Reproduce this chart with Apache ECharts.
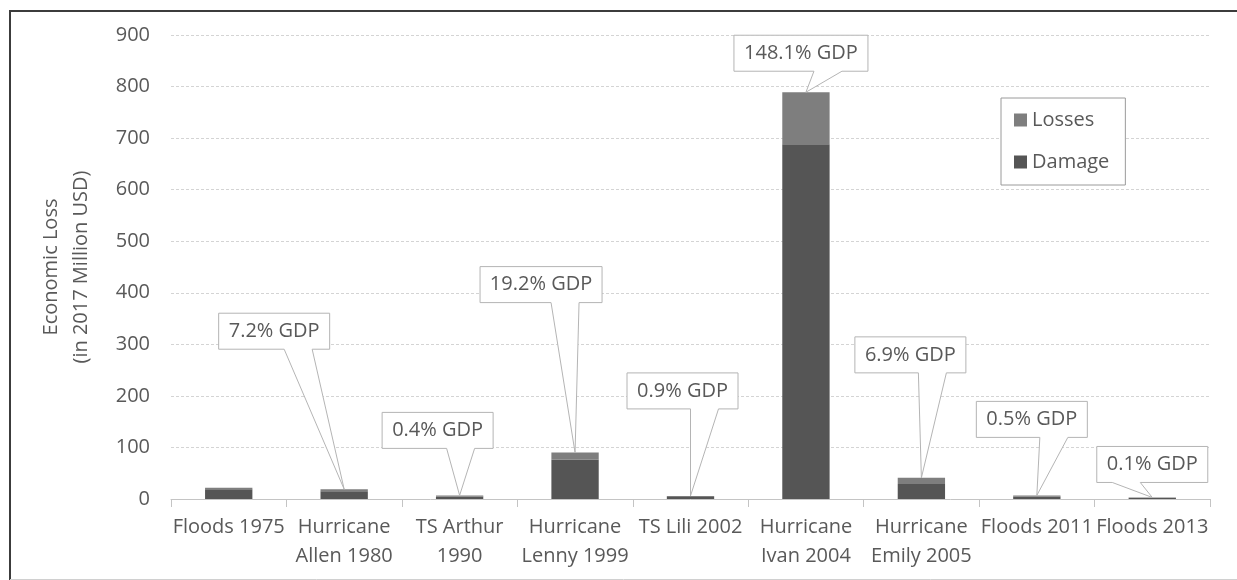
<!DOCTYPE html>
<html>
<head>
<meta charset="utf-8">
<style>
  html, body { margin: 0; padding: 0; background: #fff; }
  #main { width: 1237px; height: 580px; }
</style>
<script src="https://cdn.jsdelivr.net/npm/echarts@6/dist/echarts.min.js"></script>
</head>
<body>
<div id="main"></div>
<script>
// categories and values (2017 million USD)
const events = ['Floods 1975', 'Hurricane\nAllen 1980', 'TS Arthur\n1990', 'Hurricane\nLenny 1999', 'TS Lili 2002',
  'Hurricane\nIvan 2004', 'Hurricane\nEmily 2005', 'Floods 2011', 'Floods 2013'];
const damage = [19, 15, 5, 76, 4, 688, 29, 5, 2];
const losses = [3, 4, 2, 14, 2, 101, 12, 2, 1];
const gdpShare = ['', '7.2% GDP', '0.4% GDP', '19.2% GDP', '0.9% GDP', '148.1% GDP', '6.9% GDP', '0.5% GDP', '0.1% GDP'];

// callout layout, pixels relative to the bar top: box centre dx, box bottom dy, wedge offset from box centre
const calloutDx = [0, -70, -22, -34, -8, -5, -11, -5, 0];
const calloutDy = [0, -140, -47, -150, -87, -21, -105, -58, -15];
const wedgeOff = [0, 24, 23, 24, 22, 27, 22, 22, -26];

const FONT = '"Open Sans", sans-serif';
const GREY = '#595959';
const FS = 20;

const measureCtx = document.createElement('canvas').getContext('2d');
measureCtx.font = FS + 'px "Open Sans"';

const totals = damage.map((d, i) => d + losses[i]);

const myChart = echarts.init(document.getElementById('main'));

function renderCallout(params, api) {
  const i = params.dataIndex;
  const text = gdpShare[i];
  if (!text) return;
  const tip = api.coord([api.value(0), api.value(1)]);
  const w = Math.round(measureCtx.measureText(text).width) + 20;
  const h = 36;
  const cx = tip[0] + calloutDx[i];
  const bottom = tip[1] + calloutDy[i];
  const top = bottom - h;
  const left = cx - w / 2, right = cx + w / 2;
  const bc = cx + wedgeOff[i];
  return {
    type: 'group',
    children: [{
      type: 'polygon',
      shape: {
        points: [[left, top], [right, top], [right, bottom], [bc + 14, bottom], tip, [bc - 14, bottom], [left, bottom]]
      },
      style: { fill: '#fff', stroke: '#b4b4b4', lineWidth: 1 }
    }, {
      type: 'text',
      x: cx,
      y: top + h / 2,
      style: { text: text, fill: GREY, font: FS + 'px ' + FONT, align: 'center', verticalAlign: 'middle' }
    }]
  };
}

var option = {
  animation: false,
  textStyle: { fontFamily: FONT },
  grid: { left: 171, right: 27, top: 35, bottom: 81 },
  legend: {
    data: ['Losses', 'Damage'],
    orient: 'vertical',
    left: 1001,
    top: 98,
    padding: [12, 16, 13, 13],
    itemWidth: 13,
    itemHeight: 13,
    itemGap: 22,
    icon: 'rect',
    borderColor: '#9a9a9a',
    borderWidth: 1,
    backgroundColor: '#fff',
    textStyle: { color: GREY, fontSize: FS, lineHeight: 13, fontFamily: FONT }
  },
  xAxis: {
    type: 'category',
    data: events,
    axisLine: { lineStyle: { color: '#c4c4c4' } },
    axisTick: { show: true, length: 8, lineStyle: { color: '#c4c4c4' } },
    axisLabel: { color: GREY, fontSize: FS, lineHeight: 29, margin: 14, interval: 0, fontFamily: FONT }
  },
  yAxis: {
    type: 'value',
    min: 0,
    max: 900,
    interval: 100,
    name: 'Economic Loss\n(in 2017 Million USD)',
    nameLocation: 'middle',
    nameRotate: 90,
    nameGap: 75,
    nameTextStyle: { color: GREY, fontSize: FS, lineHeight: 30, fontFamily: FONT },
    axisLine: { show: false },
    axisTick: { show: false },
    axisLabel: { color: GREY, fontSize: FS, margin: 21, fontFamily: FONT },
    splitLine: { lineStyle: { color: '#d4d4d4', type: [3, 2] } }
  },
  series: [{
    name: 'Damage',
    type: 'bar',
    stack: 'loss',
    barWidth: '41%',
    itemStyle: { color: '#555555' },
    data: damage
  }, {
    name: 'Losses',
    type: 'bar',
    stack: 'loss',
    barWidth: '41%',
    itemStyle: { color: '#7e7e7e' },
    data: losses
  }, {
    name: 'callouts',
    type: 'custom',
    z: 5,
    silent: true,
    renderItem: renderCallout,
    encode: { x: 0, y: 1 },
    data: totals.map((t, i) => [i, t])
  }],
  graphic: [
    { type: 'line', shape: { x1: 9, y1: 11, x2: 1237, y2: 11 }, style: { stroke: '#3c3c3c', lineWidth: 2 } },
    { type: 'line', shape: { x1: 10, y1: 10, x2: 10, y2: 580 }, style: { stroke: '#3c3c3c', lineWidth: 2 } },
    { type: 'line', shape: { x1: 10, y1: 579.5, x2: 1237, y2: 579.5 }, style: { stroke: '#d0d0d0', lineWidth: 1 } }
  ]
};

myChart.setOption(option);
</script>
</body>
</html>
